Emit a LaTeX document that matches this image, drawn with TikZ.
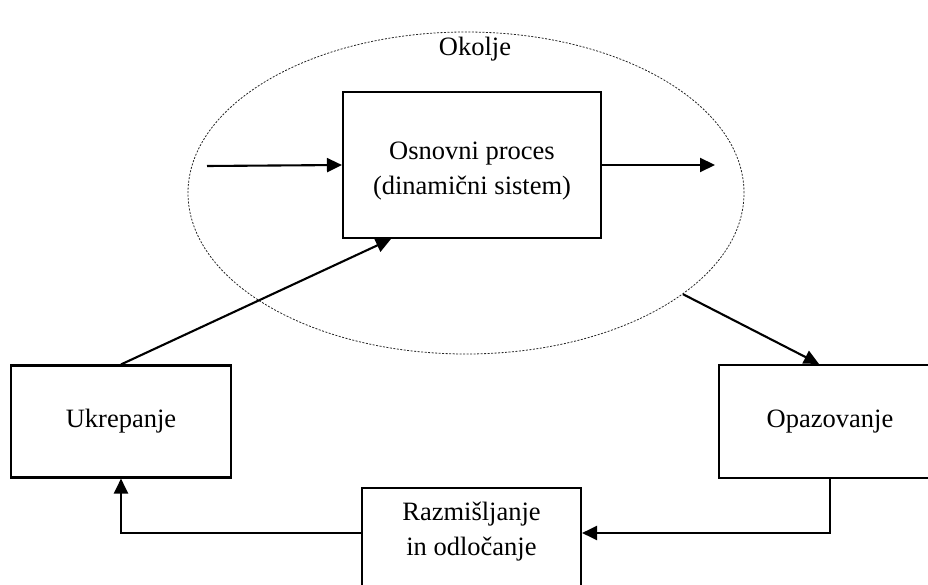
\documentclass[tikz,border=0pt]{standalone}
\usepackage{fontspec}
\setmainfont{Liberation Serif}
\usetikzlibrary{arrows.meta,shapes.geometric,calc}

\begin{document}
\begin{tikzpicture}[x=1pt,y=-1pt,
  txt/.style={font=\fontsize{26.5}{35}\selectfont, inner sep=0pt},
  blockbox/.style={draw, line width=2.1pt, fill=white, inner sep=0pt,
    font=\fontsize{26.5}{35}\selectfont, align=center},
  envshape/.style={ellipse, draw=black!85, line width=0.8pt,
    dash pattern=on 2pt off 1.5pt, inner sep=0pt},
  arr/.style={line width=2.1pt, -{Triangle[length=15pt,width=14pt]}}]

\useasboundingbox (0,0) rectangle (928,585);
\clip (0,0) rectangle (928,585);

% environment around the process
\node[envshape, minimum width=556pt, minimum height=322pt] (env) at (466,193) {};
\node[txt, anchor=base] (envlbl) at (475,56) {Okolje};

% blocks
\node[blockbox, minimum width=258pt, minimum height=146pt] (proc) at (472,165) {};
\node[txt, align=center, anchor=north] (proclbl) at (472,142)
  {Osnovni proces\\(dinamični sistem)};
\node[blockbox, minimum width=220pt, minimum height=112pt] (ukrep) at (121,421.5)
  {Ukrepanje};
\node[blockbox, minimum width=222pt, minimum height=113pt] (opaz) at (830,421.5)
  {Opazovanje};
\node[blockbox, minimum width=219pt, minimum height=120pt, anchor=north] (think)
  at (471.5,487) {};
\node[txt, align=center, anchor=north] (thinklbl) at (471.5,502)
  {Razmišljanje\\in odločanje};

% connector end points
\coordinate (inL) at (207,166);
\coordinate (outR) at (715,165);
\coordinate (procIn) at ($(proc.south west)+(49,0)$);
\coordinate (opazIn) at ($(opaz.north west)+(101,0)$);
\coordinate (thinkR) at ($(think.north east)+(0,46)$);
\coordinate (thinkL) at ($(think.north west)+(0,46)$);

% connectors
\draw[arr] (inL) -- (proc.west);
\draw[arr] (proc.east) -- (outR);
\draw[arr] (ukrep.north) -- (procIn);
\draw[arr] (env.-25) -- (opazIn);
\draw[arr] (opaz.south) |- (thinkR);
\draw[arr] (thinkL) -| (ukrep.south);
\end{tikzpicture}
\end{document}
